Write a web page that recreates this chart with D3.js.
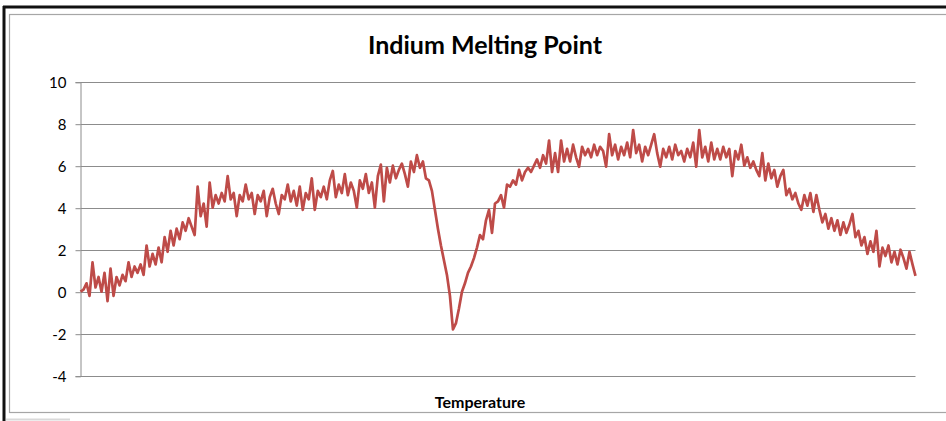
<!DOCTYPE html>
<html>
<head>
<meta charset="utf-8">
<script src="https://cdn.jsdelivr.net/npm/d3@7"></script>
<style>
  html, body { margin: 0; padding: 0; background: #fff; }
  svg { display: block; }
</style>
</head>
<body>
<svg id="chart" width="946" height="421"></svg>
<script>
// Signal trace across the heating run (arbitrary units), sampled evenly in temperature
const signal = [
  0.0, 0.1, 0.4, -0.2, 1.4, 0.2, 0.7, 0.0, 0.9, -0.45,
  1.1, -0.2, 0.7, 0.3, 0.8, 0.5, 1.4, 0.7, 1.2, 0.9,
  1.3, 0.8, 2.2, 1.2, 1.8, 1.3, 2.1, 1.4, 2.6, 1.9,
  2.9, 2.2, 3.0, 2.5, 3.3, 2.9, 3.5, 3.1, 2.7, 5.0,
  3.6, 4.2, 3.1, 5.2, 4.0, 4.6, 4.2, 4.7, 4.3, 5.5,
  4.4, 4.7, 3.6, 4.6, 4.3, 5.1, 4.4, 4.7, 3.7, 4.6,
  4.3, 4.8, 3.6, 4.5, 4.9, 4.2, 3.7, 4.6, 4.4, 5.1,
  4.3, 4.8, 4.1, 5.0, 3.9, 4.7, 4.4, 5.4, 3.9, 4.8,
  4.5, 5.0, 4.4, 5.3, 5.75, 4.5, 5.1, 4.7, 5.6, 4.6,
  5.2, 4.8, 4.0, 5.3, 4.9, 5.6, 4.7, 5.2, 4.0, 5.5,
  6.05, 4.3, 5.9, 5.2, 6.0, 5.4, 5.8, 6.1, 5.6, 5.0,
  6.2, 5.7, 6.5, 5.9, 6.2, 5.4, 5.3, 4.8, 3.9, 3.0,
  2.2, 1.5, 0.8, -0.2, -1.8, -1.5, -0.8, 0.0, 0.4, 0.9,
  1.2, 1.6, 2.1, 2.7, 2.5, 3.4, 3.9, 2.8, 4.2, 4.3,
  4.6, 4.0, 5.1, 5.0, 5.3, 5.1, 5.8, 5.3, 5.7, 5.9,
  5.7, 6.0, 6.3, 5.9, 6.5, 6.1, 7.2, 5.7, 6.6, 5.7,
  7.2, 6.2, 6.8, 6.2, 7.0, 6.4, 5.95, 6.9, 6.5, 6.8,
  6.4, 7.0, 6.5, 6.9, 6.7, 5.95, 7.5, 6.5, 7.0, 6.3,
  6.9, 6.5, 7.1, 6.4, 7.7, 6.6, 7.0, 6.2, 6.9, 6.5,
  7.0, 7.5, 6.6, 5.95, 6.8, 6.4, 6.9, 6.3, 7.0, 6.5,
  6.7, 6.2, 6.8, 6.4, 7.1, 5.95, 7.7, 6.4, 6.9, 6.2,
  7.1, 6.3, 6.8, 6.3, 6.9, 6.4, 6.8, 5.5, 6.7, 6.3,
  7.0, 6.0, 6.4, 5.9, 6.2, 5.8, 5.5, 6.6, 5.3, 6.1,
  5.4, 5.8, 5.0, 5.5, 5.8, 4.6, 4.9, 4.4, 4.7, 4.2,
  3.9, 4.6, 4.1, 4.7, 3.8, 4.6, 3.9, 3.3, 3.7, 3.0,
  3.5, 2.9, 3.4, 2.7, 3.3, 2.8, 3.2, 3.7, 2.6, 2.9,
  2.2, 2.6, 1.8, 2.4, 1.9, 2.9, 1.2, 2.1, 1.7, 2.2,
  1.4, 1.9, 1.3, 2.0, 1.6, 1.1, 1.9, 1.3, 0.75
];

const yTicks = [-4, -2, 0, 2, 4, 6, 8, 10];
const titleText = "Indium Melting Point";
const xTitleText = "Temperature";

const svg = d3.select("#chart");
const W = 946, H = 421;
const plot = { left: 80.5, right: 915.5, top: 81.7, bottom: 375.7 };

// Outer frame: heavy dark edge on top/left, light inner border
svg.append("line").attr("x1", 3).attr("x2", W).attr("y1", 7).attr("y2", 7)
  .attr("stroke", "#111").attr("stroke-width", 3);
svg.append("line").attr("x1", 4).attr("x2", 4).attr("y1", 6).attr("y2", H)
  .attr("stroke", "#111").attr("stroke-width", 3);
svg.append("rect").attr("x", 9.5).attr("y", 14.5).attr("width", W).attr("height", 398)
  .attr("fill", "none").attr("stroke", "#a6a6a6").attr("stroke-width", 1.2);
svg.append("line").attr("x1", 6).attr("x2", 70).attr("y1", 419.5).attr("y2", 419.5)
  .attr("stroke", "#d9d9d9").attr("stroke-width", 2);

const x = d3.scaleLinear().domain([0, signal.length - 1]).range([plot.left, plot.right]);
const y = d3.scaleLinear().domain([-4, 10]).range([plot.bottom, plot.top]);

// Horizontal gridlines
svg.append("g")
  .selectAll("line")
  .data(yTicks)
  .join("line")
  .attr("x1", plot.left).attr("x2", plot.right)
  .attr("y1", d => Math.round(y(d)) + 0.5).attr("y2", d => Math.round(y(d)) + 0.5)
  .attr("stroke", "#8c8c8c").attr("stroke-width", 1);

// Y axis (plain hyphen for negatives)
const yAxis = d3.axisLeft(y).tickValues(yTicks).tickSize(5).tickPadding(9)
  .tickFormat(d => String(d));
const gy = svg.append("g").attr("transform", `translate(${plot.left},0.5)`).call(yAxis);
gy.select(".domain").attr("stroke", "#8c8c8c");
gy.selectAll(".tick line").attr("stroke", "#8c8c8c");
gy.selectAll(".tick text")
  .attr("fill", "#000")
  .style("font-family", "Lato, 'Open Sans', sans-serif")
  .style("font-size", "15px");

// Signal line
const line = d3.line()
  .x((d, i) => x(i))
  .y(d => y(d));
svg.append("path")
  .datum(signal)
  .attr("d", line)
  .attr("fill", "none")
  .attr("stroke", "#be4b48")
  .attr("stroke-width", 2.7)
  .attr("stroke-linejoin", "round");

// Titles
svg.append("text")
  .attr("x", 485).attr("y", 54)
  .attr("text-anchor", "middle")
  .style("font-family", "Lato, 'Open Sans', sans-serif")
  .style("font-weight", "bold")
  .style("font-size", "25px")
  .text(titleText);

svg.append("text")
  .attr("x", 480).attr("y", 408)
  .attr("text-anchor", "middle")
  .style("font-family", "Lato, 'Open Sans', sans-serif")
  .style("font-weight", "bold")
  .style("font-size", "16px")
  .text(xTitleText);
</script>
</body>
</html>
